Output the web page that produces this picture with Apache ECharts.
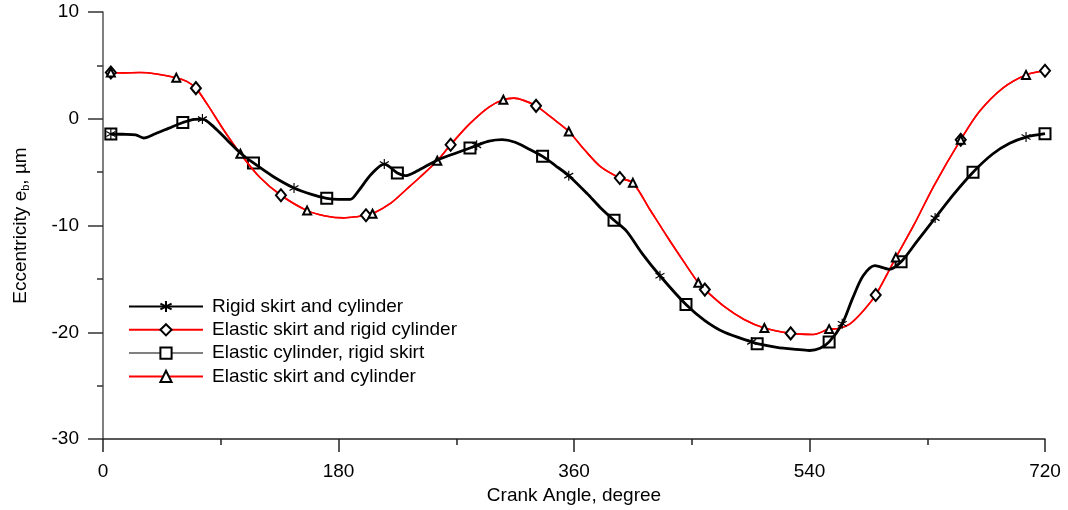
<!DOCTYPE html>
<html>
<head>
<meta charset="utf-8">
<script src="https://cdn.jsdelivr.net/npm/echarts@6/dist/echarts.min.js"></script>
<style>
  html, body { margin: 0; padding: 0; background: #fff; }
  #chart { width: 1068px; height: 510px; }
</style>
</head>
<body>
<div id="chart"></div>
<script>
// black curve (rigid skirt / elastic cylinder), crank angle in degree, eccentricity in um
const blackAngle = [6, 15, 25, 31, 40, 50, 61, 70, 76, 85, 95, 105, 115, 130, 146, 160, 171, 180, 189, 195, 205, 215, 225, 231, 240, 255, 270, 280.5, 285.6, 295, 305, 315, 325, 336, 346, 356, 370, 380, 390.6, 400, 412, 425.7, 445.6, 460, 475, 495.8, 500, 515, 530, 540, 548, 555, 565, 573, 581, 590, 601, 610, 622, 636, 650, 665, 680, 693, 705.5, 720];
const blackValue = [-1.43, -1.45, -1.5, -1.8, -1.4, -0.9, -0.35, -0.05, -0.03, -0.8, -2.0, -3.2, -4.14, -5.4, -6.48, -7.1, -7.45, -7.55, -7.55, -6.8, -5.2, -4.24, -5.08, -5.33, -4.9, -3.9, -3.2, -2.74, -2.49, -2.1, -1.96, -2.2, -2.8, -3.52, -4.4, -5.33, -7.0, -8.3, -9.5, -10.5, -12.6, -14.7, -17.4, -18.9, -20.0, -20.9, -21.06, -21.4, -21.6, -21.7, -21.5, -20.9, -19.2, -16.8, -14.7, -13.75, -14.1, -13.4, -11.5, -9.3, -7.1, -5.0, -3.3, -2.3, -1.71, -1.4];

// red curve (elastic skirt)
const redAngle = [6, 15, 28, 41, 56, 64, 71, 80, 92, 105, 120, 136, 156, 170, 184, 195, 201, 206, 220, 232, 242, 255.5, 265.7, 280, 295, 306, 314, 322, 331, 343, 356, 368, 380, 395, 405, 418, 431, 444, 455, 460, 475, 490, 505.5, 525.6, 543, 555, 562, 571, 581, 590.6, 606, 620, 635, 655.6, 670, 688, 705.5, 720];
const redValue = [4.33, 4.3, 4.33, 4.2, 3.85, 3.5, 2.87, 1.3, -1.0, -3.27, -5.5, -7.16, -8.6, -9.1, -9.28, -9.15, -9.03, -8.9, -7.9, -6.6, -5.5, -3.93, -2.43, -0.5, 1.1, 1.78, 1.93, 1.7, 1.21, 0.1, -1.19, -2.9, -4.45, -5.54, -6.0, -8.5, -11.0, -13.4, -15.36, -16.0, -17.6, -18.8, -19.6, -20.1, -20.2, -19.7, -19.65, -19.2, -18.0, -16.5, -13.0, -9.9, -6.3, -1.96, 0.7, 2.9, 4.11, 4.5];

// angles where each series shows its marker
const starAngle = [6, 76, 146, 215, 285.6, 356, 425.7, 495.8, 565, 636, 705.5];
const squareAngle = [6, 61, 115, 171, 225, 280.5, 336, 390.6, 445.6, 500, 555, 610, 665, 720];
const diamondAngle = [6, 71, 136, 201, 265.7, 331, 395, 460, 525.6, 590.6, 655.6, 720];
const triangleAngle = [6, 56, 105, 156, 206, 255.5, 306, 356, 405, 455, 505.5, 555, 606, 655.6, 705.5];

const seriesNames = ['Rigid skirt and cylinder', 'Elastic skirt and rigid cylinder', 'Elastic cylinder, rigid skirt', 'Elastic skirt and cylinder'];

const starPath = 'path://M5,0L5,10M0.67,2.5L9.33,7.5M0.67,7.5L9.33,2.5';

// curve points, marker only where the angle is in marks
const buildData = (angles, values, marks) => angles.map((a, i) =>
    marks.indexOf(a) >= 0 ? [a, values[i]] : { value: [a, values[i]], symbol: 'none' });

const chart = echarts.init(document.getElementById('chart'));
const font = 'Liberation Sans, Arial, sans-serif';

chart.setOption({
    animation: false,
    textStyle: { fontFamily: font },
    grid: { left: 103, right: 23, top: 12, bottom: 69 },
    legend: {
        orient: 'vertical',
        left: 123,
        top: 292,
        itemWidth: 74,
        itemHeight: 14,
        itemGap: 4.3,
        textStyle: { fontSize: 19, color: '#000', fontFamily: font, padding: [0, 0, 0, 4] },
        data: seriesNames
    },
    xAxis: {
        type: 'value',
        min: 0,
        max: 720,
        interval: 180,
        name: 'Crank Angle, degree',
        nameLocation: 'middle',
        nameGap: 46,
        nameTextStyle: { fontSize: 19, color: '#000' },
        axisLine: { onZero: false, lineStyle: { color: '#222', width: 1.5 } },
        axisTick: { inside: false, length: 13, lineStyle: { color: '#222', width: 1.5 } },
        minorTick: { show: true, splitNumber: 2, length: 6, lineStyle: { color: '#222', width: 1.5 } },
        axisLabel: { fontSize: 19, color: '#000', margin: 23 },
        splitLine: { show: false }
    },
    yAxis: {
        type: 'value',
        min: -30,
        max: 10,
        interval: 10,
        name: 'Eccentricity e{sub|b}, µm',
        nameLocation: 'middle',
        nameGap: 72,
        nameTextStyle: {
            fontSize: 19, color: '#000',
            rich: { sub: { fontSize: 11, padding: [10, 0, 0, 0] } }
        },
        axisLine: { show: true, onZero: false, lineStyle: { color: '#555', width: 1.5 } },
        axisTick: { inside: false, length: 15, lineStyle: { color: '#333', width: 1.5 } },
        minorTick: { show: true, splitNumber: 2, length: 6, lineStyle: { color: '#333', width: 1.5 } },
        axisLabel: { fontSize: 19, color: '#000', margin: 24 },
        splitLine: { show: false }
    },
    series: [
        {
            name: seriesNames[0],
            type: 'line',
            z: 4,
            data: buildData(blackAngle, blackValue, starAngle),
            smooth: 0.3,
            symbol: starPath,
            symbolSize: [9, 10],
            lineStyle: { color: '#000', width: 2.8 },
            itemStyle: { color: 'rgba(0,0,0,0)', borderColor: '#000', borderWidth: 1.2 }
        },
        {
            name: seriesNames[1],
            type: 'line',
            z: 3,
            data: buildData(redAngle, redValue, diamondAngle),
            smooth: 0.3,
            symbol: 'emptyDiamond',
            symbolSize: [10, 12],
            lineStyle: { color: '#ff0000', width: 1.6 },
            itemStyle: { color: '#000', borderColor: '#000', borderWidth: 1 }
        },
        {
            name: seriesNames[2],
            type: 'line',
            z: 2,
            data: buildData(blackAngle, blackValue, squareAngle),
            smooth: 0.3,
            symbol: 'emptyRect',
            symbolSize: 11,
            lineStyle: { color: '#808080', width: 1.5 },
            itemStyle: { color: '#000', borderColor: '#000', borderWidth: 1.5 }
        },
        {
            name: seriesNames[3],
            type: 'line',
            z: 3,
            data: buildData(redAngle, redValue, triangleAngle),
            smooth: 0.3,
            symbol: 'emptyTriangle',
            symbolSize: 8,
            lineStyle: { color: '#ff0000', width: 1.6 },
            itemStyle: { color: '#000', borderColor: '#000', borderWidth: 2 }
        }
    ]
});
</script>
</body>
</html>
